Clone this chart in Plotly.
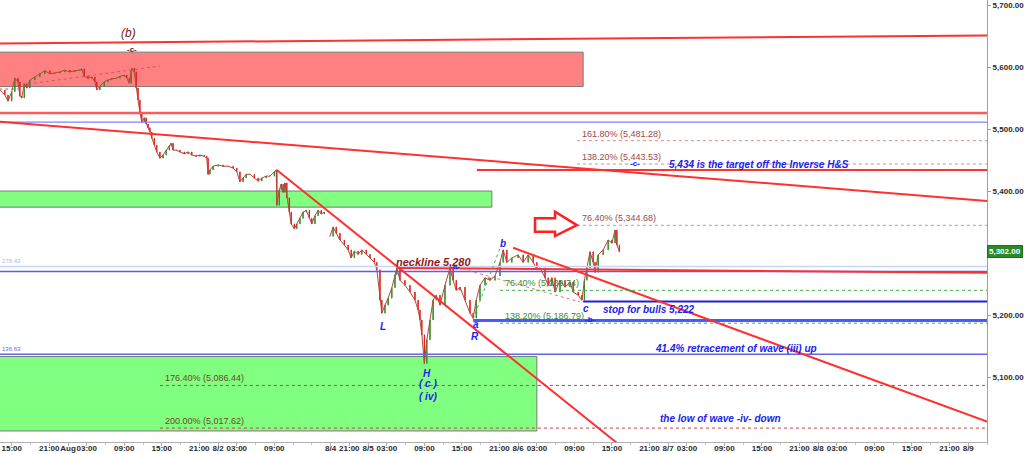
import plotly.graph_objects as go

# ---------------- data ----------------
# trading-hour index (0 = Aug 1 00:00, weekend removed) and closing prices
hours_a = [-10.9, -10.1, -9.6, -9.0, -8.5, -8.0, -7.7, -7.4, -7.0, -6.6, -6.1, -5.3, -4.5, -3.7, -2.9, -2.1,
           -1.3, -0.5, 0.3, 1.1, 1.9, 2.2, 2.6, 3.2, 3.8, 4.3, 4.6, 5.1, 5.8, 6.4, 7.0, 7.7, 8.3, 9.0, 9.4,
           9.8, 10.1, 10.2, 10.6, 10.9, 11.2, 11.5, 11.8, 12.2, 12.5, 12.8, 13.1, 13.4, 13.8, 14.2, 14.7,
           15.2, 15.7, 16.2, 16.5, 16.8, 17.3, 17.9, 18.6, 19.2, 19.8, 20.5, 21.1, 21.8, 22.2, 22.4, 22.7,
           23.2, 24.0, 24.8, 25.6, 26.4, 27.0, 27.5, 28.0, 28.5, 29.1, 29.8, 30.4, 31.0, 31.7, 32.3, 33.0,
           33.3, 33.4, 33.8, 34.1, 34.4, 34.7, 35.0, 35.4, 35.7, 36.2, 36.6, 37.1, 37.6, 38.1, 38.6, 39.0,
           39.5, 40.0, 40.5, 41.0]
close_a = [5563, 5555, 5545, 5560, 5582, 5576, 5553, 5550, 5573, 5566, 5579, 5584, 5589, 5594, 5589, 5590,
           5592, 5595, 5592, 5594, 5595, 5597, 5585, 5582, 5584, 5576, 5563, 5569, 5576, 5579, 5581, 5582,
           5585, 5587, 5582, 5574, 5595, 5598, 5592, 5566, 5547, 5527, 5511, 5518, 5508, 5502, 5495, 5485,
           5474, 5463, 5453, 5458, 5466, 5473, 5477, 5466, 5466, 5463, 5460, 5463, 5458, 5456, 5458, 5456,
           5453, 5427, 5434, 5440, 5442, 5440, 5440, 5437, 5431, 5415, 5421, 5427, 5427, 5421, 5416, 5421,
           5424, 5424, 5431, 5434, 5377, 5402, 5411, 5398, 5413, 5389, 5366, 5347, 5339, 5347, 5356, 5366,
           5369, 5356, 5347, 5360, 5369, 5363, 5366]

hours_b = [41.9, 42.4, 42.9, 43.5, 44.2, 44.8, 45.3, 45.8, 46.4, 47.0, 47.7, 48.3, 49.0, 49.4, 49.9, 50.2,
           50.7, 51.2, 51.8, 52.3, 52.6, 53.1, 53.9, 54.7, 55.5, 56.0, 56.3, 56.6, 57.0, 57.4, 57.9, 58.4,
           58.9, 59.5, 60.3, 61.1, 61.6, 62.1, 62.7, 63.5, 64.3, 64.8, 65.3, 65.9, 66.7, 67.5, 68.3, 69.1,
           69.6, 70.2, 71.0, 72.0, 72.8, 73.6, 74.4, 75.0, 75.5, 76.3, 76.8, 77.4, 77.9, 78.7, 79.5, 80.3,
           80.8, 81.6, 82.2, 82.6, 83.0, 83.5, 84.0, 84.3, 84.8, 85.6, 86.4, 87.0, 87.5, 87.8, 88.2]
close_b = [5327, 5342, 5332, 5321, 5313, 5305, 5292, 5303, 5298, 5305, 5298, 5292, 5285, 5273, 5224, 5203,
           5216, 5227, 5244, 5265, 5276, 5256, 5248, 5237, 5224, 5208, 5192, 5168, 5122, 5160, 5192, 5224,
           5232, 5216, 5248, 5276, 5256, 5240, 5245, 5224, 5203, 5195, 5224, 5248, 5260, 5256, 5263, 5285,
           5305, 5285, 5292, 5297, 5285, 5297, 5285, 5273, 5276, 5260, 5248, 5260, 5237, 5256, 5245, 5253,
           5237, 5232, 5224, 5256, 5276, 5302, 5285, 5269, 5297, 5305, 5321, 5316, 5337, 5313, 5302]

tick_hours = [-9, -3, 0, 3, 9, 15, 21, 24, 27, 33, 42, 45, 48, 51, 57, 63, 69, 72, 75, 81, 87, 93, 96, 99,
              105, 111, 117, 120, 123, 129, 135, 141, 144]
tick_text = ["15:00", "21:00", "Aug", "03:00", "09:00", "15:00", "21:00", "8/2", "03:00", "09:00", "8/4",
             "21:00", "8/5", "03:00", "09:00", "15:00", "21:00", "8/6", "03:00", "09:00", "15:00", "21:00",
             "8/7", "03:00", "09:00", "15:00", "21:00", "8/8", "03:00", "09:00", "15:00", "21:00", "8/9"]
price_ticks = [5100, 5200, 5400, 5500, 5600, 5700]

last_price = 5302.00
fib_upper = [("161.80%", 5481.28), ("138.20%", 5443.53), ("76.40%", 5344.68)]
fib_green = [("76.40%", 5239.74), ("138.20%", 5186.79)]
fib_lower = [("176.40%", 5086.44), ("200.00%", 5017.62)]
neckline_level = 5278.43
retrace_level = 5136.63
stop_level = 5222
a_level = 5191
target_level = 5434

X0, X1 = -10.88, 147.0
Y0, Y1 = 4995.2, 5708.1
FONT = "Arial, Liberation Sans, sans-serif"

fig = go.Figure()


def add_candles(hours, closes):
    opens = [closes[0]] + closes[:-1]
    highs = [max(o, c) for o, c in zip(opens, closes)]
    lows = [min(o, c) for o, c in zip(opens, closes)]
    fig.add_trace(go.Scatter(x=hours, y=closes, mode="lines",
                             line=dict(color="#b04a3a", width=1), hoverinfo="skip"))
    fig.add_trace(go.Candlestick(x=hours, open=opens, high=highs, low=lows, close=closes,
                                 increasing=dict(line=dict(color="#2f8f2f", width=1), fillcolor="#2f8f2f"),
                                 decreasing=dict(line=dict(color="#e02020", width=1), fillcolor="#e02020"),
                                 whiskerwidth=0))


add_candles(hours_a, close_a)
add_candles(hours_b, close_b)

shapes = []


def rect(x0, x1, y0, y1, fill):
    shapes.append(dict(type="rect", xref="x", yref="y", x0=x0, x1=x1, y0=y0, y1=y1,
                       fillcolor=fill, line=dict(color="#7a7a7a", width=1), layer="below"))


def seg(x0, y0, x1, y1, color, width=2, dash="solid"):
    shapes.append(dict(type="line", xref="x", yref="y", x0=x0, y0=y0, x1=x1, y1=y1,
                       line=dict(color=color, width=width, dash=dash)))


# supply / demand boxes
rect(-12, 82.4, 5568.5, 5624, "#ff8080")
rect(-12, 67.8, 5374, 5400, "#80ff80")
rect(-12, 75.0, 5013, 5133, "#80ff80")

# horizontal blue levels
seg(X0, 5511, X1, 5511, "#8080ff", 1.2)
seg(X0, neckline_level, X1, neckline_level, "#c8d6f6", 1.5)
seg(X0, 5270, X1, 5270, "#5a5aff", 1.5)
seg(X0, retrace_level, X1, retrace_level, "#6464e6", 1.5)
seg(82.4, stop_level, X1, stop_level, "#2020d0", 2)
seg(64.8, a_level, X1, a_level, "#4a5aff", 3)

# red trend lines
seg(-11, 5638, X1, 5651, "#ff3030", 2)
seg(X0, 5526, X1, 5526, "#ff5a5a", 2.5)
seg(-11, 5512, X1, 5384, "#ff3030", 2)
seg(65.4, target_level, X1, target_level, "#ff3030", 2)
seg(33.4, 5434, 89.0, 4984, "#ff3030", 2)
seg(71.2, 5308.5, X1, 5028, "#ff3030", 2)
seg(52.6, 5276, X1, 5268, "#ff3030", 2)

# dotted pattern lines
seg(-6.4, 5572.6, 14.7, 5601.6, "#c06060", 1, "dot")
seg(-11, 5564.5, -6.9, 5564.5, "#c06060", 1, "dot")
seg(64.8, 5193.5, 69.1, 5308, "#4caf4c", 1, "dot")
seg(62.2, 5277, 81.9, 5221, "#d08080", 1, "dot")

# fib levels
for _, v in fib_upper:
    seg(81.4, v, X1, v, "#d09090", 1, "dot")
for _, v in fib_green:
    seg(69.1, v, X1, v, "#4caf4c", 1, "dot")
for _, v in fib_lower:
    seg(14.7, v, X1, v, "#c04040", 1, "dot")

# arrow outline
shapes.append(dict(type="path", xref="x", yref="y",
                   path="M 74.7,5356 L 77.9,5356 L 77.9,5366.6 L 81.4,5345 L 77.9,5327.4 L 77.9,5334.3 L 74.7,5334.3 Z",
                   fillcolor="white", line=dict(color="#ff2020", width=2.5)))

annotations = []


def txt(x, y, text, color, size=10, xanchor="center", yanchor="middle", xref="x"):
    annotations.append(dict(x=x, y=y, xref=xref, yref="y", text=text, showarrow=False,
                            font=dict(family=FONT, size=size, color=color),
                            xanchor=xanchor, yanchor=yanchor))


for name, v in fib_upper:
    txt(81.9, v, f"{name} ({v:,.2f})", "#a04848", 9, "left", "bottom")
for name, v in fib_green:
    txt(69.6, v, f"{name} ({v:,.2f})", "#3a8a3a", 9, "left", "bottom")
for name, v in fib_lower:
    txt(15.2, v, f"{name} ({v:,.2f})", "#6a4a20", 9, "left", "bottom")

BLUE = "#2222ee"
txt(9.6, 5655, "<i>(b)</i>", "#7a1a1a", 12)
txt(10.2, 5629, "<b>-c-</b>", "#502020", 8)
txt(58.4, 5285.5, "<b><i>neckline 5,280</i></b>", "#8b1a1a", 11)
txt(61.9, 5279, "<b>-a-</b>", BLUE, 8)
txt(69.6, 5316, "<b><i>b</i></b>", BLUE, 10)
txt(50.4, 5182, "<b><i>L</i></b>", BLUE, 10)
txt(65.3, 5184, "<b><i>a</i></b>", BLUE, 10)
txt(65.1, 5166, "<b><i>R</i></b>", BLUE, 10)
txt(57.4, 5106, "<b><i>H</i></b>", BLUE, 10)
txt(57.6, 5089, "<b><i>( c )</i></b>", BLUE, 10)
txt(57.6, 5069, "<b><i>( iv)</i></b>", BLUE, 10)
txt(82.9, 5211, "<b><i>c</i></b>", BLUE, 10)
txt(83.6, 5192, "<b>-b-</b>", BLUE, 8)
txt(90.7, 5445, "<b>-c-</b>", BLUE, 8)
txt(85.3, 5209.6, "<b><i>stop for bulls 5,222</i></b>", BLUE, 10, "left")
txt(93.6, 5146.7, "<b><i>41.4% retracement of wave (iii) up</i></b>", BLUE, 10, "left")
txt(94.4, 5033.8, "<b><i>the low of wave -iv- down</i></b>", BLUE, 10, "left")
txt(95.8, 5442.7, "<b><i>5,434 is the target off the Inverse H&S</i></b>", BLUE, 10, "left")
txt(0, neckline_level, "278.43", "#a8b8f0", 6, "left", "bottom", "paper")
txt(0, retrace_level, "136.63", "#6a6ad0", 6, "left", "bottom", "paper")

annotations.append(dict(x=1, xref="paper", y=last_price, yref="y", text=f"<b>{last_price:,.2f}</b>",
                        showarrow=False, xanchor="left", yanchor="middle",
                        font=dict(family=FONT, size=8, color="white"),
                        bgcolor="#2a8a2a", bordercolor="#1f6f1f", borderwidth=1, borderpad=1))

fig.update_layout(
    width=1024, height=454,
    margin=dict(l=0, r=37, t=0, b=12),
    paper_bgcolor="white", plot_bgcolor="white",
    showlegend=False,
    shapes=shapes, annotations=annotations,
    font=dict(family=FONT),
    xaxis=dict(range=[X0, X1], tickmode="array", tickvals=tick_hours, ticktext=tick_text,
               showgrid=False, zeroline=False, showline=True, linecolor="#b0b0b0",
               ticks="outside", ticklen=3, tickcolor="#b0b0b0", ticklabelstandoff=-5, tickangle=0,
               minor=dict(tickmode="linear", tick0=0, dtick=3, ticks="outside", ticklen=2, tickcolor="#c0c0c0"),
               tickfont=dict(size=8, color="#2a2a2a", family=FONT, weight="bold"),
               rangeslider=dict(visible=False), automargin=False, fixedrange=True),
    yaxis=dict(range=[Y0, Y1], side="right", tickmode="array", tickvals=price_ticks,
               tickformat=",.2f", showgrid=False, zeroline=False, showline=True, linecolor="#a0a0a0",
               ticks="outside", ticklen=3, tickcolor="#a0a0a0",
               tickfont=dict(size=8, color="#2a2a2a", family=FONT, weight="bold"),
               automargin=False, fixedrange=True),
)

fig.write_html("out.html", config={"displayModeBar": False},
               post_script="document.body.style.margin='0';document.body.style.overflow='hidden';")
